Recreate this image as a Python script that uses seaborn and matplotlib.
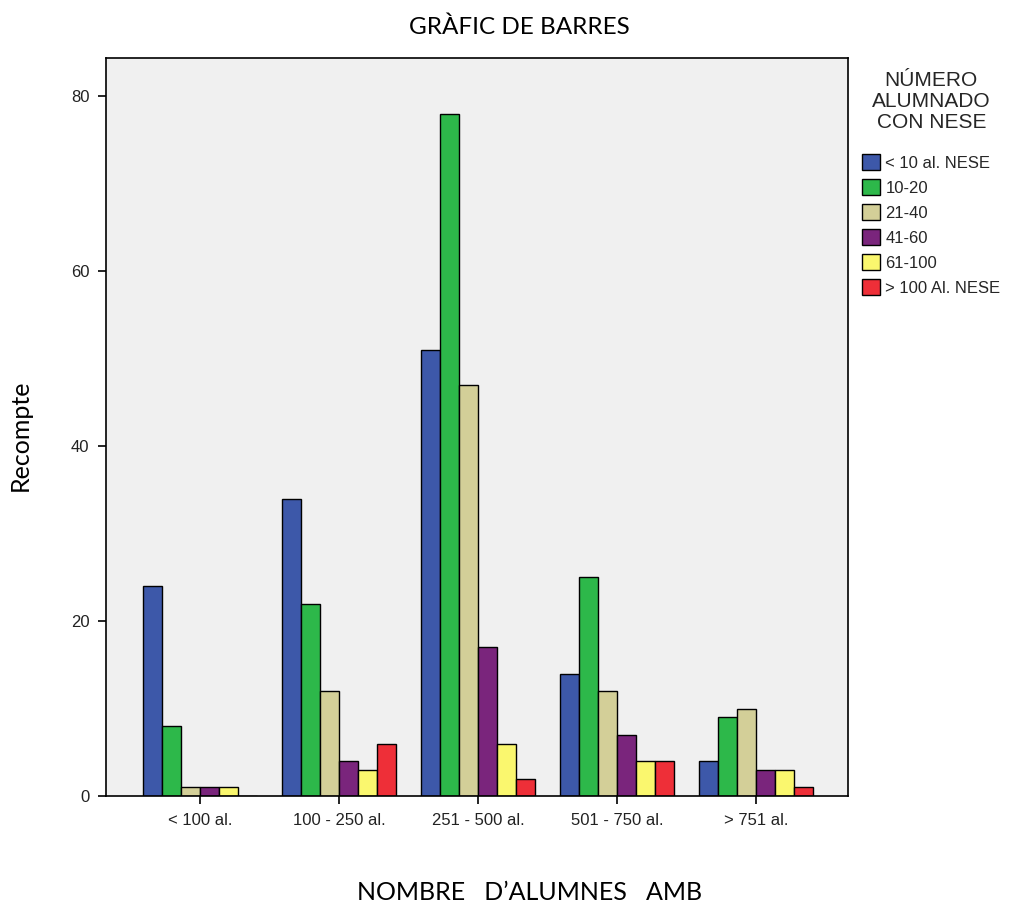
import numpy as np
import pandas as pd
import matplotlib
matplotlib.use('Agg')
import matplotlib.pyplot as plt
import seaborn as sns

# school size groups (x axis)
groups = ['< 100 al.', '100 - 250 al.', '251 - 500 al.', '501 - 750 al.', '> 751 al.']
# number of students with NESE (hue)
nese = ['< 10 al. NESE', '10-20', '21-40', '41-60', '61-100', '> 100 Al. NESE']

lt10 = [24, 34, 51, 14, 4]
n10_20 = [8, 22, 78, 25, 9]
n21_40 = [1, 12, 47, 12, 10]
n41_60 = [1, 4, 17, 7, 3]
n61_100 = [1, 3, 6, 4, 3]
gt100 = [0, 6, 2, 4, 1]

colors = ['#3D58A9', '#2DB84A', '#D3CF98', '#7A257C', '#FAF76E', '#EE2F38']

series = [lt10, n10_20, n21_40, n41_60, n61_100, gt100]
rows = []
for name, vals in zip(nese, series):
    for g, v in zip(groups, vals):
        rows.append({'grup': g, 'nese': name, 'recompte': v})
df = pd.DataFrame(rows)

sns.set_style('white')
plt.rcParams['font.family'] = ['Liberation Sans', 'DejaVu Sans']

fig = plt.figure(figsize=(10.1, 9.06), dpi=100)
ax = fig.add_axes([0.105, 0.1214, 0.7346, 0.8146])
ax.set_facecolor('#F0F0F0')

sns.barplot(data=df, x='grup', y='recompte', hue='nese', order=groups,
            hue_order=nese, palette=colors, saturation=1, width=0.82,
            edgecolor='black', linewidth=1.0, ax=ax, legend=True)

ax.set_xlim(-0.676, 4.66)
ax.set_ylim(0, 84.4)
ax.set_yticks([0, 20, 40, 60, 80])
ax.set_xlabel('')
ax.set_ylabel('')
for s in ax.spines.values():
    s.set_color('black')
    s.set_linewidth(1.2)
ax.tick_params(axis='both', direction='out', length=6, width=1.2, color='black',
               labelsize=12, labelcolor='#222222', bottom=True, left=True, pad=6)

handles, labels = ax.get_legend_handles_labels()
leg = ax.legend(handles, labels, title='NÚMERO\nALUMNADO\nCON NESE',
                loc='upper left', bbox_to_anchor=(0.842, 0.935), bbox_transform=fig.transFigure,
                frameon=False, fontsize=12, title_fontsize=15, handlelength=1.1,
                handleheight=1.1, handletextpad=0.3, labelspacing=0.5, borderpad=0.2)
leg._legend_box.align = 'center'
leg.get_title().set_multialignment('center')
leg.get_title().set_linespacing(1.15)
leg._legend_box.sep = 16

fig.text(0.514, 0.970, 'GRÀFIC DE BARRES', ha='center', va='center',
         fontsize=17.5, family=['Lato', 'DejaVu Sans'], color='black')
fig.text(0.524, 0.0144, 'NOMBRE   D\u2019ALUMNES   AMB', ha='center', va='center',
         fontsize=18, family=['Lato', 'DejaVu Sans'], color='black')
fig.text(0.02, 0.52, 'Recompte', ha='center', va='center', rotation=90,
         fontsize=18, family=['Lato', 'DejaVu Sans'], color='black')

fig.savefig('out.png', dpi=100)
